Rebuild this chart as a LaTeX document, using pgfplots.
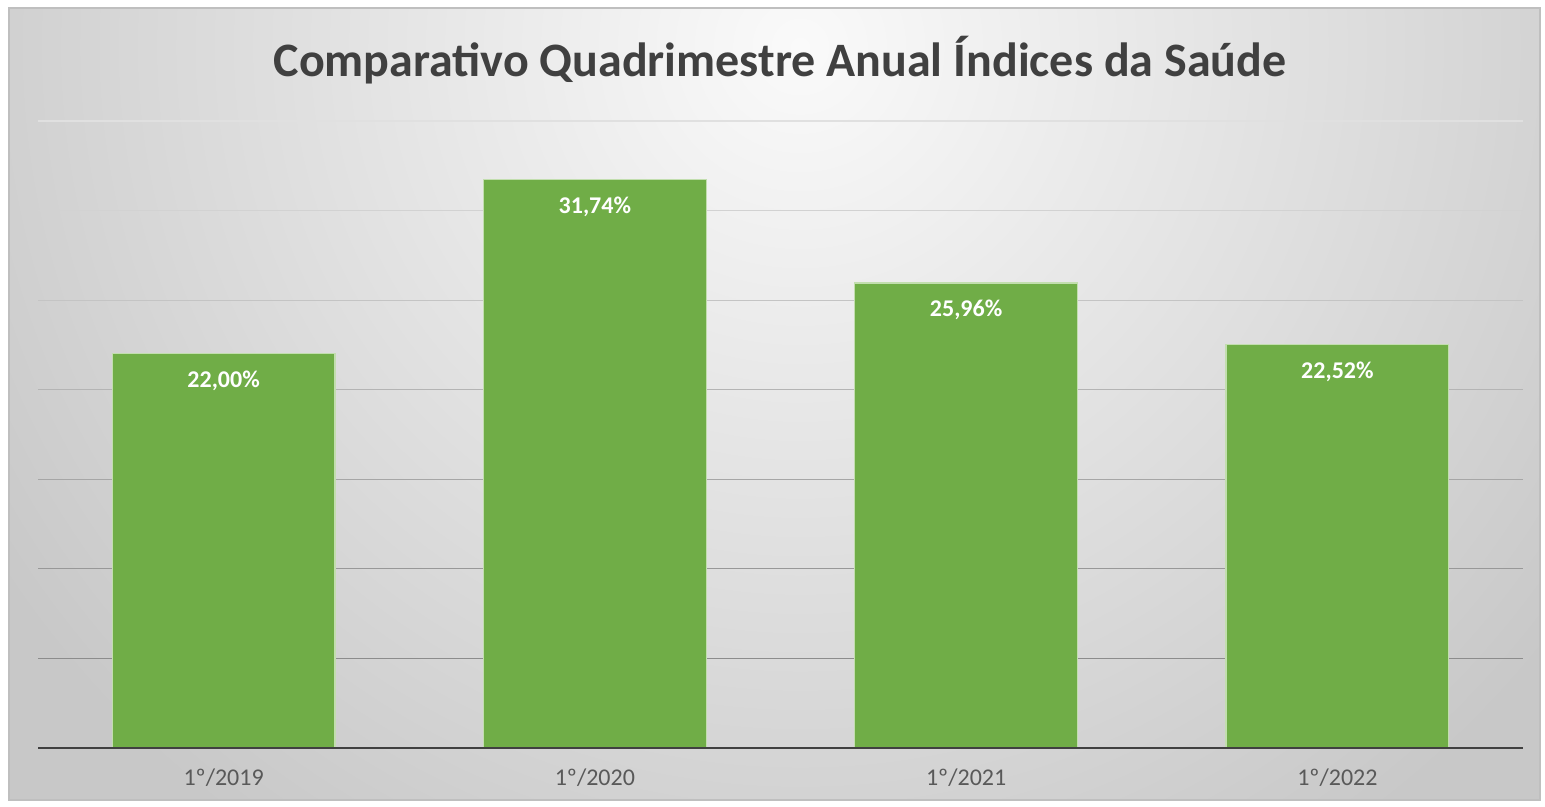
\documentclass[border=0pt]{standalone}
\usepackage{fontspec}
\setmainfont{Carlito}
\usepackage{pgfplots}
\pgfplotsset{compat=1.18}
\definecolor{titlec}{HTML}{404040}
\definecolor{tickc}{HTML}{595959}
\definecolor{barc}{HTML}{70AD47}
\definecolor{baredge}{HTML}{C2DEAE}
\definecolor{bgin}{HTML}{FAFAFA}
\definecolor{bgout}{HTML}{C8C8C8}
\definecolor{frame}{HTML}{BFBFBF}
\pgfdeclareradialshading{bgshade}{\pgfpoint{0bp}{0bp}}{color(0bp)=(bgin); color(25bp)=(bgout); color(50bp)=(bgout)}
\begin{document}
\begin{tikzpicture}
\fill[white] (0,0) rectangle (772.5pt,403.5pt);
\fill[bgout] (4.5pt,3.5pt) rectangle (770pt,399.5pt);
\begin{scope}
\clip (4.5pt,3.5pt) rectangle (770pt,399.5pt);
\shade[shading=bgshade] (400pt,380pt) circle (480pt);
\end{scope}
\draw[frame, line width=0.6pt] (4.5pt,3.5pt) rectangle (770pt,399.5pt);
\node[anchor=base, text=titlec, font=\bfseries\fontsize{24}{28}\selectfont] at (390pt,365pt) {Comparativo Quadrimestre Anual Índices da Saúde};
\begin{axis}[
  at={(19pt,29.5pt)}, anchor=south west,
  scale only axis, width=742.5pt, height=313.5pt,
  xmin=-0.5, xmax=3.5, ymin=0, ymax=35,
  axis x line*=bottom, axis y line=none,
  x axis line style={draw=titlec, line width=1pt},
  xtick={0,1,2,3},
  xticklabels={1º/2019,1º/2020,1º/2021,1º/2022},
  xtick style={draw=none},
  ytick=\empty,
  xticklabel style={anchor=base, yshift=-19pt, text=tickc, font=\fontsize{12}{14}\selectfont},
  axis on top,
  clip=false,
]
\draw[color={rgb,255:red,140;green,140;blue,140}, line width=0.6pt] (axis cs:-0.5,5) -- (axis cs:3.5,5);
\draw[color={rgb,255:red,152;green,152;blue,152}, line width=0.6pt] (axis cs:-0.5,10) -- (axis cs:3.5,10);
\draw[color={rgb,255:red,166;green,166;blue,166}, line width=0.6pt] (axis cs:-0.5,15) -- (axis cs:3.5,15);
\draw[color={rgb,255:red,180;green,180;blue,180}, line width=0.6pt] (axis cs:-0.5,20) -- (axis cs:3.5,20);
\draw[color={rgb,255:red,196;green,196;blue,196}, line width=0.6pt] (axis cs:-0.5,25) -- (axis cs:3.5,25);
\draw[color={rgb,255:red,210;green,210;blue,210}, line width=0.6pt] (axis cs:-0.5,30) -- (axis cs:3.5,30);
\draw[color={rgb,255:red,224;green,224;blue,224}, line width=0.6pt] (axis cs:-0.5,35) -- (axis cs:3.5,35);
\addplot[ybar, bar width=0.6, fill=barc, draw=baredge, line width=0.6pt,
  nodes near coords={\pgfmathprintnumber[fixed,fixed zerofill,precision=2,use comma,assume math mode=true]{\pgfplotspointmeta}\%},
  every node near coord/.append style={anchor=base, yshift=-17pt, text=white, font=\bfseries\fontsize{12}{14}\selectfont},
] coordinates {(0,22.00) (1,31.74) (2,25.96) (3,22.52)};
\end{axis}
\end{tikzpicture}
\end{document}
